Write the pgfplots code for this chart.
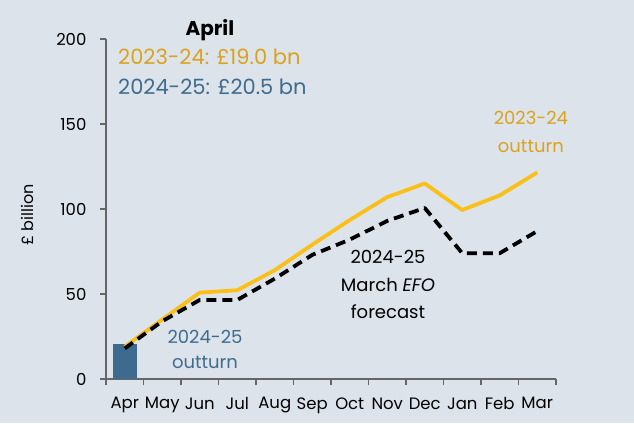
\documentclass[border=0pt]{standalone}
\usepackage{pgfplots}
\pgfplotsset{compat=1.18}
\usepackage{fontspec}
\setmainfont{Poppins}
\definecolor{bg}{HTML}{DCE3EA}
\definecolor{gold}{HTML}{FAC018}
\definecolor{goldtxt}{HTML}{DBA21C}
\definecolor{bluebar}{HTML}{3D6A8E}
\definecolor{bluetxt}{HTML}{3F6C8E}
\definecolor{axisgray}{HTML}{666666}
\begin{document}
\begin{tikzpicture}
\fill[bg] (-106pt,-44pt) rectangle (528pt,379pt);
\begin{axis}[
  at={(0pt,0pt)}, anchor=south west,
  scale only axis, width=450pt, height=340pt,
  xmin=-0.5, xmax=11.5, ymin=0, ymax=200,
  axis x line=bottom, axis y line=left,
  axis line style={-, axisgray, line width=1.3pt},
  clip=false,
  xtick={0,...,11},
  xticklabels={Apr,May,Jun,Jul,Aug,Sep,Oct,Nov,Dec,Jan,Feb,Mar},
  major x tick style={draw=none},
  minor xtick={-0.5,0.5,...,11.5},
  minor x tick style={axisgray, line width=1.1pt},
  minor tick length=6pt,
  ytick={0,50,100,150,200},
  y tick style={axisgray, line width=1.1pt},
  major tick length=6pt,
  tick align=outside,
  /pgf/number format/assume math mode=true,
  ticklabel style={font=\fontsize{16.5}{18}\selectfont, text=black},
  xticklabel style={yshift=-9pt},
  yticklabel style={xshift=-10pt},
  ylabel={£ billion},
  ylabel style={font=\fontsize{16}{18}\selectfont, at={(ticklabel cs:0.5)}, anchor=south, xshift=-6pt, yshift=16pt},
]
\addplot[ybar, bar width=24pt, fill=bluebar, draw=none] coordinates {(0,20.5)};
\addplot[gold, line width=3.8pt, line join=round] coordinates {
(0,19.0) (1,35) (2,50.8) (3,52.2) (4,64) (5,79) (6,93.5) (7,107) (8,115) (9,99.4) (10,108) (11,121.5)};
\addplot[black, line width=3.8pt, dash pattern=on 10pt off 6pt, line join=round] coordinates {
(0,18) (1,34) (2,46.5) (3,46.5) (4,59) (5,73) (6,82) (7,93) (8,100.6) (9,74) (10,74) (11,87)};
\node[font=\fontsize{20}{22}\selectfont\bfseries] at (axis cs:2.27,205.3) {April};
\node[font=\fontsize{21}{22}\selectfont, text=goldtxt, anchor=west, inner sep=0pt] at (axis cs:-0.18,189.4) {2023-24: £19.0 bn};
\node[font=\fontsize{21}{22}\selectfont, text=bluetxt, anchor=west, inner sep=0pt] at (axis cs:-0.18,171.8) {2024-25: £20.5 bn};
\node[font=\fontsize{18}{20}\selectfont, text=goldtxt] at (axis cs:10.83,153.5) {2023-24};
\node[font=\fontsize{18}{20}\selectfont, text=goldtxt] at (axis cs:10.83,137) {outturn};
\node[font=\fontsize{18}{20}\selectfont] at (axis cs:7.02,71.8) {2024-25};
\node[font=\fontsize{18}{20}\selectfont] at (axis cs:7.02,55.3) {March \textit{EFO}};
\node[font=\fontsize{18}{20}\selectfont] at (axis cs:7.02,39.4) {forecast};
\node[font=\fontsize{18}{20}\selectfont, text=bluetxt] at (axis cs:2.14,24.7) {2024-25};
\node[font=\fontsize{18}{20}\selectfont, text=bluetxt] at (axis cs:2.14,10) {outturn};
\end{axis}
\useasboundingbox (-106pt,-44pt) rectangle (528pt,379pt);
\end{tikzpicture}
\end{document}
